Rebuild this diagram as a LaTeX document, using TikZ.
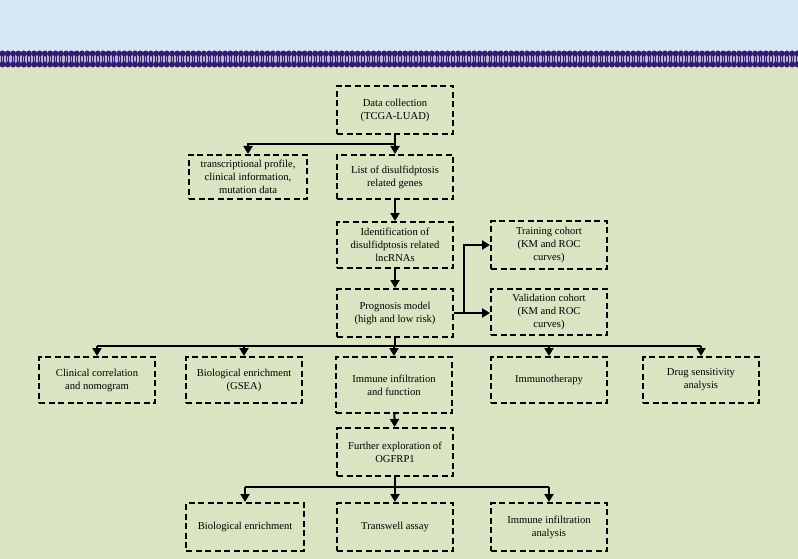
\documentclass[tikz,border=0pt]{standalone}
\usepackage{fontspec}
\setmainfont{Liberation Serif}
\usepackage{tikz}
\usetikzlibrary{arrows.meta, positioning, calc}
\definecolor{skyblue}{RGB}{214,230,245}
\definecolor{palegreen}{RGB}{218,228,195}
\definecolor{lipidhead}{RGB}{50,28,110}
\definecolor{lipidcore}{RGB}{178,178,212}
\tikzset{
  dbox/.style={draw=black, dashed, dash pattern=on 6pt off 3.5pt, line width=2pt,
               minimum width=#1, minimum height=46pt, align=center, inner sep=2pt,
               font=\fontsize{10.6}{13}\selectfont},
  arr/.style={-{Triangle[length=8pt, width=9pt]}, line width=2pt},
  lnk/.style={line width=2pt},
}
\begin{document}
\begin{tikzpicture}[x=1pt, y=-1pt]
    \useasboundingbox (0,0) rectangle (798,559);
    \fill[palegreen] (0,0) rectangle (798,559);
    \fill[skyblue] (0,0) rectangle (798,52);
    \fill[lipidcore] (0,54) rectangle (798,64.5);
    \foreach \i in {0,...,150} {
      \draw[lipidhead, line width=0.9pt] (1.4+5.3*\i,55) -- (1.4+5.3*\i,63)
                                           (3.6+5.3*\i,55) -- (3.6+5.3*\i,63);
      \fill[lipidhead] (2.5+5.3*\i,53.5) circle (3);
      \fill[lipidhead] (2.5+5.3*\i,64.5) circle (3);
    }

    \node[dbox=116pt, minimum height=48pt] (data) at (395, 110) {Data collection\\(TCGA-LUAD)};
    \node[dbox=118pt, minimum height=44pt] (profile) at (248, 177) {transcriptional profile,\\clinical information,\\mutation data};
    \node[dbox=116pt, minimum height=44pt] (genes)   at (395, 177) {List of disulfidptosis\\related genes};
    \node[dbox=116pt] (ident)   at (395, 245) {Identification of\\disulfidptosis related\\lncRNAs};
    \node[dbox=116pt, minimum height=48pt] (model) at (395, 313) {Prognosis model\\(high and low risk)};
    \node[dbox=116pt, minimum height=48pt] (train) at (549, 245) {Training cohort\\(KM and ROC\\curves)};
    \node[dbox=116pt] (valid)   at (549, 312) {Validation cohort\\(KM and ROC\\curves)};

    \node[dbox=116pt] (clin)  at (97, 380) {Clinical correlation\\and nomogram};
    \node[dbox=116pt] (gsea)  at (244, 380) {Biological enrichment\\(GSEA)};
    \node[dbox=116pt, minimum height=56pt] (immune) at (394, 385) {Immune infiltration\\and function};
    \node[dbox=116pt] (therapy) at (549, 380) {Immunotherapy};
    \node[dbox=116pt] (drug)    at (701, 380) {Drug sensitivity\\analysis};

    \node[dbox=116pt, minimum height=48pt] (further) at (395, 452) {Further exploration of\\OGFRP1};
    \node[dbox=118pt, minimum height=48pt] (bioenr)  at (245, 527) {Biological enrichment};
    \node[dbox=116pt, minimum height=48pt] (transw)  at (395, 527) {Transwell assay};
    \node[dbox=116pt, minimum height=48pt] (immana)  at (549, 527) {Immune infiltration\\analysis};

    \coordinate (s1) at ($(data.south)+(0,9)$);
    \draw[lnk] (data.south) -- (s1);
    \draw[arr] (s1) -| (profile.north);
    \draw[arr] (s1) -- (genes.north);
    \draw[arr] (genes) -- (ident);
    \draw[arr] (ident) -- (model);

    \coordinate (s2) at ($(model.east)+(10,0)$);
    \draw[arr] (model.east) -- (model.east -| valid.west);
    \draw[arr] (s2) |- (train.west);

    \coordinate (s3) at ($(model.south)+(0,8)$);
    \draw[lnk] (model.south) -- (s3);
    \draw[lnk] (s3 -| clin.north) -- (s3 -| drug.north);
    \draw[arr] (s3 -| clin.north) -- (clin.north);
    \draw[arr] (s3 -| gsea.north) -- (gsea.north);
    \draw[arr] (s3 -| immune.north) -- (immune.north);
    \draw[arr] (s3 -| therapy.north) -- (therapy.north);
    \draw[arr] (s3 -| drug.north) -- (drug.north);

    \draw[arr] (immune) -- (further);

    \coordinate (s4) at ($(further.south)+(0,10)$);
    \draw[lnk] (further.south) -- (s4);
    \draw[lnk] (s4 -| bioenr.north) -- (s4 -| immana.north);
    \draw[arr] (s4 -| bioenr.north) -- (bioenr.north);
    \draw[arr] (s4 -| transw.north) -- (transw.north);
    \draw[arr] (s4 -| immana.north) -- (immana.north);
  \end{tikzpicture}
\end{document}
